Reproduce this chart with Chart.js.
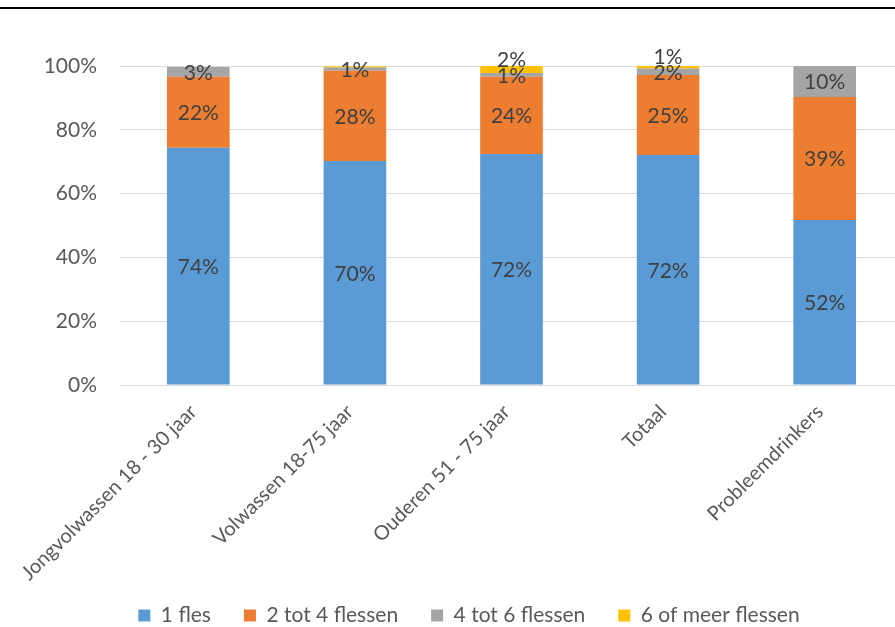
<!DOCTYPE html>
<html><head><meta charset="utf-8">
<script src="https://cdn.jsdelivr.net/npm/chart.js@4"></script>
<style>
html,body{margin:0;padding:0;background:#fff;overflow:hidden;width:895px;height:627px;}
#wrap{position:absolute;left:0;top:0;width:910px;height:640px;}
#topline{position:absolute;left:0;top:7px;width:895px;height:2px;background:#000;}
</style></head><body>
<div id="wrap"><canvas id="c" width="910" height="640"></canvas></div>
<div id="topline"></div>
<script>
const categories = ['Jongvolwassen 18 - 30 jaar', 'Volwassen 18-75 jaar', 'Ouderen 51 - 75 jaar', 'Totaal', 'Probleemdrinkers'];
const seriesNames = ['1 fles', '2 tot 4 flessen', '4 tot 6 flessen', '6 of meer flessen'];
const eenFles = [74.4, 70.2, 72.4, 72.1, 51.7];
const tweeTotVier = [22.2, 28.3, 24.2, 25.1, 38.6];
const vierTotZes = [3.1, 1.0, 1.2, 2.0, 9.7];
const zesOfMeer = [0, 0.4, 2.2, 0.8, 0];
const yTicks = [0, 20, 40, 60, 80, 100];
const colors = ['#5B9BD5', '#ED7D31', '#A5A5A5', '#FFC000'];

const FONT = 'Lato';
const FS = 21;
const XFS = 20;
const CH = 640;
const PADB = 4;
const AREA_BOTTOM = 385;

const segLabels = {
  id: 'segLabels',
  afterDatasetsDraw(chart) {
    const ctx = chart.ctx;
    ctx.save();
    ctx.font = FS + 'px ' + FONT;
    ctx.fillStyle = '#404040';
    ctx.textAlign = 'center';
    ctx.textBaseline = 'middle';
    const n = chart.data.labels.length;
    for (let i = 0; i < n; i++) {
      let prevY = Infinity;
      chart.data.datasets.forEach((ds, d) => {
        const r = Math.round(ds.data[i]);
        if (!r) return;
        const el = chart.getDatasetMeta(d).data[i];
        let y = (el.y + el.base) / 2 + 1;
        if (prevY - y < 16) y = prevY - 16;
        ctx.fillText(r + '%', el.x, y);
        prevY = y;
      });
    }
    ctx.restore();
  }
};

const seriesData = [eenFles, tweeTotVier, vierTotZes, zesOfMeer];
new Chart(document.getElementById('c'), {
  type: 'bar',
  data: {
    labels: categories,
    datasets: seriesNames.map((name, k) => ({
      label: name,
      data: seriesData[k],
      backgroundColor: colors[k],
      borderWidth: 0,
      barPercentage: 0.4,
      categoryPercentage: 1.0
    }))
  },
  options: {
    responsive: false,
    animation: false,
    layout: { padding: { left: 35, right: 7, top: 66, bottom: PADB } },
    plugins: {
      tooltip: { enabled: false },
      legend: {
        position: 'bottom',
        labels: {
          boxWidth: 12, boxHeight: 12, padding: 33,
          color: '#595959',
          font: { family: FONT, size: FS }
        }
      }
    },
    scales: {
      x: {
        stacked: true,
        grid: { display: false },
        border: { color: '#D9D9D9', width: 1 },
        ticks: {
          autoSkip: false, minRotation: 45, maxRotation: 45, padding: 7, labelOffset: -5,
          color: '#595959', font: { family: FONT, size: XFS }
        },
        afterFit(scale) {
          const lg = scale.chart.legend;
          scale.height = CH - PADB - (lg ? lg.height : 0) - AREA_BOTTOM;
          scale._computeLabelArea = () => null;
        }
      },
      y: {
        stacked: true,
        min: 0, max: 100,
        border: { display: false },
        grid: { color: '#D9D9D9', lineWidth: 1, drawTicks: false },
        afterBuildTicks(scale) { scale.ticks = yTicks.map(v => ({ value: v })); },
        ticks: {
          padding: 23,
          color: '#595959', font: { family: FONT, size: FS },
          callback: v => v + '%'
        },
        afterFit(scale) { scale.width = 85; }
      }
    }
  },
  plugins: [segLabels]
});
</script>
</body></html>
